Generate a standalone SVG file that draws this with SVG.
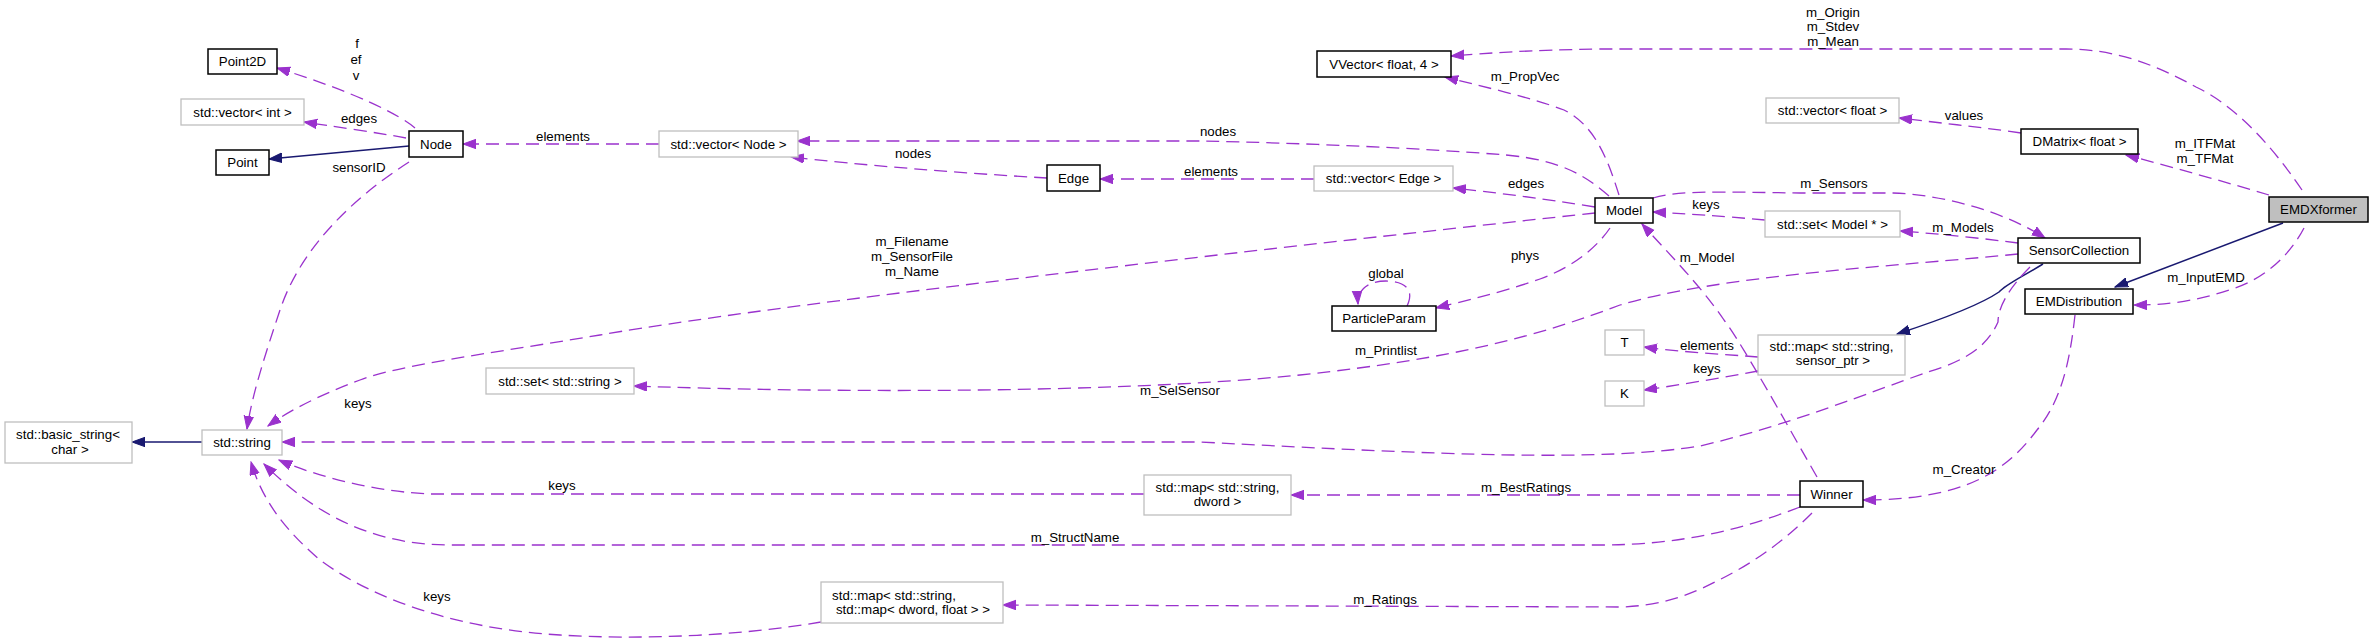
<svg xmlns="http://www.w3.org/2000/svg" width="2373" height="644" viewBox="0 0 2373 644">
<style>
text{font-family:"Liberation Sans",Arial,sans-serif;font-size:13.3px;fill:#000}
.n rect{fill:#fff;stroke:#000;stroke-width:1.5}
.g rect{fill:#fff;stroke:#bfbfbf;stroke-width:1.3}
.c{fill:none;stroke:#9a32cd;stroke-width:1.3;stroke-dasharray:13,7;marker-end:url(#ap)}
.i{fill:none;stroke:#191970;stroke-width:1.5;marker-end:url(#ab)}
.m{text-anchor:middle}
</style>
<defs>
<marker id="ap" markerUnits="userSpaceOnUse" markerWidth="14" markerHeight="11" refX="13" refY="5" orient="auto"><path d="M0,0.3 L13,5 L0,9.7 z" fill="#9a32cd" stroke="#9a32cd" stroke-width="1"/></marker>
<marker id="ab" markerUnits="userSpaceOnUse" markerWidth="14" markerHeight="11" refX="13" refY="5" orient="auto"><path d="M0,0.3 L13,5 L0,9.7 z" fill="#191970" stroke="#191970" stroke-width="1"/></marker>
</defs>
<g id="connectors">
<path class="c" d="M415,128 C400,115 355,92 277,68"/>
<path class="c" d="M406,138 C380,133 330,126 304,122"/>
<path class="i" d="M409,146 L269,159"/>
<path class="c" d="M659,144 L463,144"/>
<path class="c" d="M409,162 C350,200 300,250 280,310 C265,355 252,395 247,429"/>
<path class="c" d="M1609,196 C1585,175 1560,160 1506,155 C1420,148 1300,143 1200,141 L797,141"/>
<path class="c" d="M1047,178 C960,173 860,165 791,157"/>
<path class="c" d="M1314,179 L1100,179"/>
<path class="c" d="M1595,207 C1540,198 1490,192 1453,188"/>
<path class="c" d="M1619,195 C1608,160 1595,125 1564,110 C1530,97 1480,86 1445,77"/>
<path class="c" d="M1595,213 C1400,234 800,300 600,335 C480,355 400,365 360,380 C320,395 290,410 268,426"/>
<path class="c" d="M1610,228 C1595,250 1570,268 1540,279 C1500,293 1460,302 1436,308"/>
<path class="c" d="M1407,306 C1415,290 1405,281 1386,281 C1368,281 1357,290 1358,304"/>
<path class="c" d="M1653,198 C1680,190 1720,192 1800,193 L1893,193 C1950,195 2010,215 2045,238"/>
<path class="c" d="M1765,220 C1720,216 1690,214 1653,212"/>
<path class="c" d="M2018,243 C1980,238 1940,234 1900,231"/>
<path class="c" d="M2018,254 C1900,266 1720,275 1620,305 C1540,335 1460,358 1300,375 C1100,395 800,392 634,386"/>
<path class="i" d="M2043,264 C2020,278 2005,285 1999,292 C1980,305 1940,320 1897,334"/>
<path class="c" d="M2030,267 C2012,285 1998,305 1998,322 C1988,345 1968,360 1928,372 C1870,392 1790,425 1700,446 C1600,462 1450,455 1200,442 L282,442"/>
<path class="c" d="M1758,357 C1720,354 1680,352 1644,347"/>
<path class="c" d="M1758,371 C1720,378 1680,385 1644,390"/>
<path class="c" d="M1817,477 C1790,430 1740,340 1724,320 C1700,285 1670,255 1642,224"/>
<path class="c" d="M1800,495 L1291,495"/>
<path class="c" d="M1800,507 C1740,530 1680,545 1600,545 L450,545 C380,545 320,520 264,464"/>
<path class="c" d="M1144,494 L430,494 C380,492 320,478 279,460"/>
<path class="c" d="M821,622 C740,636 640,640 560,635 C440,628 360,590 320,560 C285,530 262,500 251,462"/>
<path class="c" d="M1812,513 C1790,535 1760,560 1717,581 C1690,595 1660,606 1620,607 L1003,605"/>
<path class="c" d="M2075,315 C2070,360 2062,400 2037,430 C2007,470 1967,500 1863,500"/>
<path class="c" d="M2302,190 C2285,165 2245,110 2196,87 C2156,65 2116,49 2066,49 L1600,49 C1530,50 1490,53 1451,56"/>
<path class="c" d="M2269,195 C2225,182 2176,168 2126,155"/>
<path class="c" d="M2021,133 C1980,127 1940,123 1899,118"/>
<path class="i" d="M2283,223 L2115,287"/>
<path class="c" d="M2304,228 C2290,255 2265,278 2235,288 C2195,302 2165,305 2134,305"/>
<path class="i" d="M202,442 L132,442"/>
<g class="m">
<text x="357" y="48">f</text><text x="356" y="64">ef</text><text x="356" y="80">v</text>
<text x="359" y="123">edges</text>
<text x="359" y="172">sensorID</text>
<text x="563" y="141">elements</text>
<text x="913" y="158">nodes</text>
<text x="912" y="246">m_Filename</text><text x="912" y="261">m_SensorFile</text><text x="912" y="276">m_Name</text>
<text x="1218" y="136">nodes</text>
<text x="1211" y="176">elements</text>
<text x="1525" y="81">m_PropVec</text>
<text x="1526" y="188">edges</text>
<text x="1706" y="209">keys</text>
<text x="1525" y="260">phys</text>
<text x="1386" y="278">global</text>
<text x="1707" y="262">m_Model</text>
<text x="1833" y="17">m_Origin</text><text x="1833" y="31">m_Stdev</text><text x="1833" y="46">m_Mean</text>
<text x="1964" y="120">values</text>
<text x="2205" y="148">m_ITFMat</text><text x="2205" y="163">m_TFMat</text>
<text x="1834" y="188">m_Sensors</text>
<text x="1963" y="232">m_Models</text>
<text x="2206" y="282">m_InputEMD</text>
<text x="358" y="408">keys</text>
<text x="562" y="490">keys</text>
<text x="437" y="601">keys</text>
<text x="1075" y="542">m_StructName</text>
<text x="1180" y="395">m_SelSensor</text>
<text x="1386" y="355">m_Printlist</text>
<text x="1707" y="350">elements</text>
<text x="1707" y="373">keys</text>
<text x="1526" y="492">m_BestRatings</text>
<text x="1385" y="604">m_Ratings</text>
<text x="1964" y="474">m_Creator</text>
</g>
</g>
<g id="Point2D" class="n"><rect x="208" y="49" width="69" height="25"/><text class="m" x="242.5" y="66.2">Point2D</text></g>
<g id="vector_int" class="g"><rect x="181" y="99" width="123" height="26"/><text class="m" x="242.5" y="116.7">std::vector&lt; int &gt;</text></g>
<g id="Point" class="n"><rect x="216" y="150" width="53" height="25"/><text class="m" x="242.5" y="167.2">Point</text></g>
<g id="Node" class="n"><rect x="409" y="131" width="54" height="26"/><text class="m" x="436" y="148.7">Node</text></g>
<g id="vector_Node" class="g"><rect x="659" y="131" width="139" height="26"/><text class="m" x="728.5" y="148.7">std::vector&lt; Node &gt;</text></g>
<g id="Edge" class="n"><rect x="1047" y="165" width="53" height="26"/><text class="m" x="1073.5" y="182.7">Edge</text></g>
<g id="VVector" class="n"><rect x="1317" y="51" width="134" height="26"/><text class="m" x="1384" y="68.7">VVector&lt; float, 4 &gt;</text></g>
<g id="vector_Edge" class="g"><rect x="1314" y="166" width="139" height="25"/><text class="m" x="1383.5" y="183.2">std::vector&lt; Edge &gt;</text></g>
<g id="Model" class="n"><rect x="1595" y="198" width="58" height="25"/><text class="m" x="1624" y="215.2">Model</text></g>
<g id="ParticleParam" class="n"><rect x="1332" y="306" width="104" height="25"/><text class="m" x="1384" y="323.2">ParticleParam</text></g>
<g id="vector_float" class="g"><rect x="1766" y="98" width="133" height="25"/><text class="m" x="1832.5" y="115.2">std::vector&lt; float &gt;</text></g>
<g id="set_Model" class="g"><rect x="1765" y="211" width="135" height="26"/><text class="m" x="1832.5" y="228.7">std::set&lt; Model * &gt;</text></g>
<g id="DMatrix" class="n"><rect x="2021" y="129" width="117" height="25"/><text class="m" x="2079.5" y="146.2">DMatrix&lt; float &gt;</text></g>
<g id="EMDXformer"><rect x="2269" y="197" width="99" height="25" fill="#bfbfbf" stroke="#000" stroke-width="1.5"/><text class="m" x="2318.5" y="214.2">EMDXformer</text></g>
<g id="SensorCollection" class="n"><rect x="2018" y="238" width="122" height="25"/><text class="m" x="2079" y="255.2">SensorCollection</text></g>
<g id="EMDistribution" class="n"><rect x="2025" y="289" width="108" height="25"/><text class="m" x="2079" y="306.2">EMDistribution</text></g>
<g id="basic_string" class="g"><rect x="5" y="422" width="127" height="41"/><text class="m" x="68" y="439.4">std::basic_string&lt;</text><text class="m" x="70" y="453.7">char &gt;</text></g>
<g id="string" class="g"><rect x="202" y="430" width="80" height="25"/><text class="m" x="242" y="447.2">std::string</text></g>
<g id="set_string" class="g"><rect x="486" y="368" width="148" height="26"/><text class="m" x="560" y="385.7">std::set&lt; std::string &gt;</text></g>
<g id="map_dword" class="g"><rect x="1144" y="475" width="147" height="40"/><text class="m" x="1217.5" y="491.5">std::map&lt; std::string,</text><text class="m" x="1217.5" y="505.5">dword &gt;</text></g>
<g id="map_map" class="g"><rect x="821" y="582" width="182" height="41"/><text class="m" x="894" y="599.5">std::map&lt; std::string,</text><text class="m" x="913" y="613.5">std::map&lt; dword, float &gt; &gt;</text></g>
<g id="T" class="g"><rect x="1605" y="330" width="39" height="25"/><text class="m" x="1624.5" y="347.2">T</text></g>
<g id="K" class="g"><rect x="1605" y="381" width="39" height="25"/><text class="m" x="1624.5" y="398.2">K</text></g>
<g id="map_sensor" class="g"><rect x="1758" y="335" width="147" height="40"/><text class="m" x="1831.5" y="351.3">std::map&lt; std::string,</text><text class="m" x="1833" y="365.3">sensor_ptr &gt;</text></g>
<g id="Winner" class="n"><rect x="1800" y="481" width="63" height="26"/><text class="m" x="1831.5" y="498.7">Winner</text></g>
</svg>
